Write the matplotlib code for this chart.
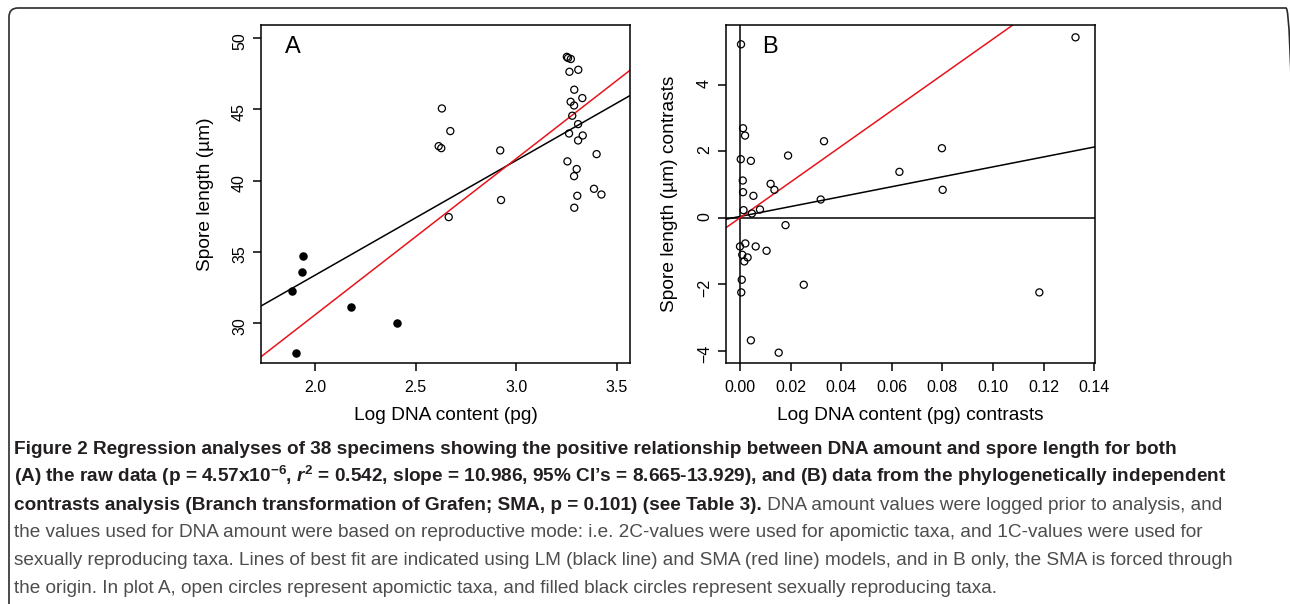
import numpy as np
import matplotlib
matplotlib.use('Agg')
import matplotlib.pyplot as plt
from matplotlib import font_manager
from matplotlib.patches import FancyBboxPatch
from matplotlib.text import Annotation
from matplotlib.transforms import IdentityTransform
from matplotlib.ticker import FormatStrFormatter

# panel A: raw data
sex_x = [1.886, 1.937, 1.940, 1.906, 2.179, 2.406]
sex_y = [32.20, 33.56, 34.66, 27.84, 31.08, 29.98]
apo_x = [2.631, 2.673, 2.615, 2.628, 2.665, 2.921, 2.925,
         3.252, 3.258, 3.272, 3.265, 3.309, 3.289, 3.329, 3.271, 3.288,
         3.279, 3.308, 3.263, 3.331, 3.308, 3.400, 3.255, 3.301, 3.288,
         3.387, 3.424, 3.304, 3.289]
apo_y = [45.07, 43.48, 42.42, 42.28, 37.43, 42.12, 38.63,
         48.70, 48.62, 48.55, 47.65, 47.79, 46.39, 45.80, 45.54, 45.28,
         44.56, 43.97, 43.31, 43.17, 42.82, 41.86, 41.35, 40.81, 40.31,
         39.42, 39.02, 38.93, 38.09]
lm_a = (17.2, 8.07)      # intercept, slope
sma_a = (8.58, 10.986)

# panel B: contrasts
con_x = [0.0004, 0.1326, 0.0012, 0.0020, 0.0003, 0.0043, 0.0190, 0.0332,
         0.0798, 0.0630, 0.0801, 0.0011, 0.0012, 0.0053, 0.0121, 0.0136,
         0.0319, 0.0014, 0.0047, 0.0079, 0.0180, 0.0000, 0.0021, 0.0062,
         0.0105, 0.0009, 0.0030, 0.0017, 0.0007, 0.0005, 0.0252, 0.1183,
         0.0043, 0.0153]
con_y = [5.21, 5.42, 2.69, 2.47, 1.76, 1.71, 1.87, 2.30,
         2.09, 1.38, 0.84, 1.12, 0.77, 0.66, 1.02, 0.84,
         0.55, 0.23, 0.13, 0.25, -0.22, -0.86, -0.77, -0.86,
         -0.99, -1.11, -1.19, -1.31, -1.86, -2.24, -2.01, -2.24,
         -3.68, -4.05]
lm_b = (0.04, 14.9)
sma_b = (0.0, 53.7)

cap_bold = [
    "Figure 2 Regression analyses of 38 specimens showing the positive relationship between DNA amount and spore length for both",
    r"(A) the raw data (p = 4.57x10$^{-6}$, $\mathit{r}^{2}$ = 0.542, slope = 10.986, 95% CI’s = 8.665-13.929), and (B) data from the phylogenetically independent",
    "contrasts analysis (Branch transformation of Grafen; SMA, p = 0.101) (see Table 3).",
]
cap_reg = [
    " DNA amount values were logged prior to analysis, and",
    "the values used for DNA amount were based on reproductive mode: i.e. 2C-values were used for apomictic taxa, and 1C-values were used for",
    "sexually reproducing taxa. Lines of best fit are indicated using LM (black line) and SMA (red line) models, and in B only, the SMA is forced through",
    "the origin. In plot A, open circles represent apomictic taxa, and filled black circles represent sexually reproducing taxa.",
]

names = {f.name for f in font_manager.fontManager.ttflist}
cap_font = 'Liberation Sans Narrow' if 'Liberation Sans Narrow' in names else 'Liberation Sans'
plt.rcParams['font.family'] = ['Liberation Sans', 'DejaVu Sans']
plt.rcParams['mathtext.fontset'] = 'custom'
plt.rcParams['mathtext.rm'] = cap_font + ':bold'
plt.rcParams['mathtext.bf'] = cap_font + ':bold'
plt.rcParams['mathtext.it'] = cap_font + ':italic:bold'

W, H = 1290, 604
fig = plt.figure(figsize=(W / 100, H / 100), dpi=100)


def px_axes(l, t, r, b):
    return fig.add_axes([l / W, 1 - b / H, (r - l) / W, (b - t) / H])


def style(ax):
    for s in ax.spines.values():
        s.set_linewidth(1.1)
    ax.tick_params(length=6, width=1.1, labelsize=11.5, pad=6)
    ax.tick_params(axis='y', labelrotation=90, pad=4)
    ax.xaxis.label.set_size(13.8)
    ax.yaxis.label.set_size(13.8)
    ax.xaxis.set_label_coords(0.5, -52 / 338)
    ax.yaxis.set_label_coords(-56 / 369, 0.5)
    ax.xaxis.label.set_va('center')
    ax.yaxis.label.set_va('center')


axA = px_axes(261, 25, 630, 363)
axA.scatter(apo_x, apo_y, s=26, facecolors='none', edgecolors='black', linewidths=0.9, zorder=3)
axA.scatter(sex_x, sex_y, s=26, color='black', zorder=3)
axA.axline((0, lm_a[0]), slope=lm_a[1], color='black', lw=1.1)
axA.axline((0, sma_a[0]), slope=sma_a[1], color='#e8141b', lw=1.1)
axA.set_xlim(1.732, 3.566)
axA.set_ylim(27.17, 50.94)
axA.set_xticks([2.0, 2.5, 3.0, 3.5])
axA.set_yticks([30, 35, 40, 45, 50])
axA.xaxis.set_major_formatter(FormatStrFormatter('%.1f'))
axA.set_xlabel('Log DNA content (pg)')
axA.set_ylabel('Spore length (µm)')
axA.text(0.087, 0.935, 'A', transform=axA.transAxes, fontsize=17, ha='center', va='center')
style(axA)

axB = px_axes(726, 25, 1095, 363)
axB.axhline(0, color='black', lw=1.1)
axB.axvline(0, color='black', lw=1.1)
axB.scatter(con_x, con_y, s=26, facecolors='none', edgecolors='black', linewidths=0.9, zorder=3)
axB.axline((0, lm_b[0]), slope=lm_b[1], color='black', lw=1.1)
axB.axline((0, sma_b[0]), slope=sma_b[1], color='#e8141b', lw=1.1)
axB.set_xlim(-0.00553, 0.1403)
axB.set_ylim(-4.36, 5.79)
axB.set_xticks(np.arange(0, 0.141, 0.02))
axB.set_yticks([-4, -2, 0, 2, 4])
axB.xaxis.set_major_formatter(FormatStrFormatter('%.2f'))
axB.set_xlabel('Log DNA content (pg) contrasts')
axB.set_ylabel('Spore length (µm) contrasts')
axB.text(0.119, 0.935, 'B', transform=axB.transAxes, fontsize=17, ha='center', va='center')
style(axB)

# frame round the figure, right and bottom edges run off the canvas
fig.add_artist(FancyBboxPatch((9, -30), 1286, H - 8 + 30, boxstyle='round,pad=0,rounding_size=9',
                              transform=IdentityTransform(), fill=False, ec='#2b2b2b', lw=1.2))

# caption
baselines = [454, 482, 510, 537, 565, 593]
bold_col, reg_col = '#231f20', '#4d4d4d'
bold_t = [fig.text(14 / W, 1 - baselines[i] / H, s, fontfamily=cap_font, fontweight='bold',
                   fontsize=12, color=bold_col, va='baseline') for i, s in enumerate(cap_bold)]
tail = fig.text(0, 0, cap_reg[0], fontfamily=cap_font, fontsize=12, color=reg_col)
reg_t = [fig.text(14 / W, 1 - baselines[i + 3] / H, s, fontfamily=cap_font,
                  fontsize=12, color=reg_col, va='baseline') for i, s in enumerate(cap_reg[1:])]

# one size for all caption text, the largest that keeps every line inside
r = fig.canvas.get_renderer()
wid = lambda t: t.get_window_extent(r).width
limits = [(wid(bold_t[0]), 1250), (wid(bold_t[1]), 1266),
          (wid(bold_t[2]) + wid(tail), 1266), (wid(reg_t[0]), 1200),
          (wid(reg_t[1]), 1266)]
size = min(12 * lim / w for w, lim in limits)
for t in bold_t + reg_t:
    t.set_fontsize(size)
tail.remove()
tail = Annotation(cap_reg[0], xy=(1, 0), xycoords=bold_t[2], fontfamily=cap_font,
                  fontsize=size, color=reg_col, va='bottom', ha='left')
fig.add_artist(tail)

fig.savefig('out.png', dpi=100)
